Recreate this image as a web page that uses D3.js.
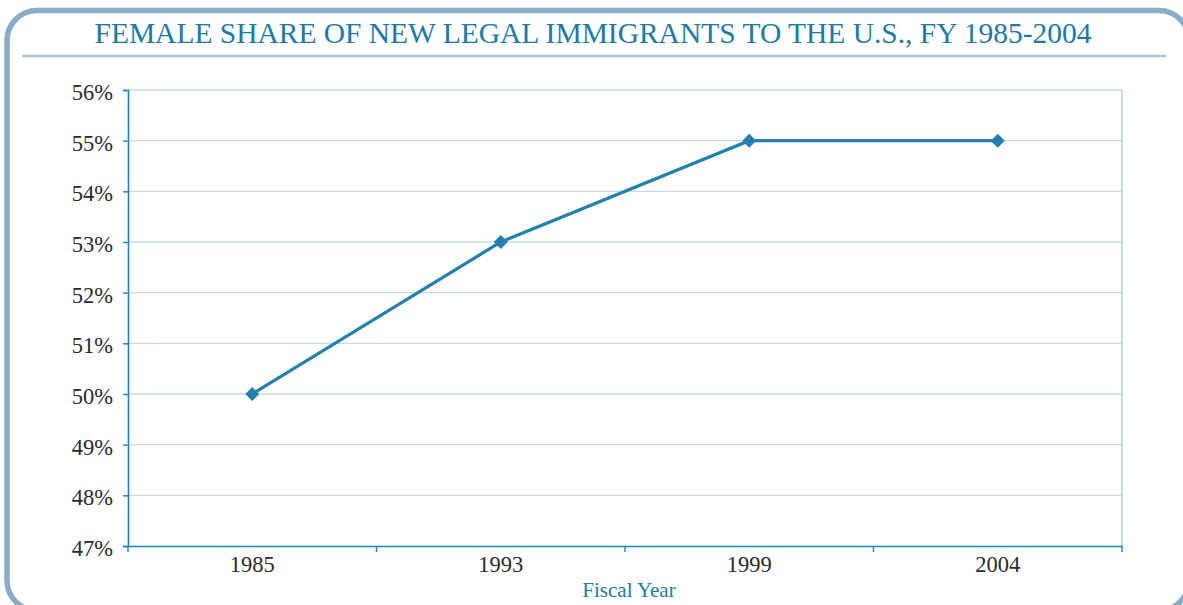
<!DOCTYPE html>
<html><head><meta charset="utf-8">
<script src="https://cdn.jsdelivr.net/npm/d3@7"></script>
<style>body{margin:0;background:#fff}svg{display:block}</style>
</head><body>
<svg id="c" width="1183" height="605"></svg>
<script>
const categories = ["1985","1993","1999","2004"];
const values = [50,53,55,55];
const yTicks = [47,48,49,50,51,52,53,54,55,56];
const title = "FEMALE SHARE OF NEW LEGAL IMMIGRANTS TO THE U.S., FY 1985-2004";
const xTitle = "Fiscal Year";

const svg = d3.select("#c");
const m={l:128,r:1122,t:90,b:546};
const serif = "'Liberation Serif','DejaVu Serif',serif";

// frame
svg.append("rect").attr("x",7).attr("y",10.5).attr("width",1182).attr("height",600)
  .attr("rx",30).attr("fill","none").attr("stroke","#89adc7").attr("stroke-width",5.5);
// title
svg.append("text").attr("x",593).attr("y",43).attr("text-anchor","middle")
  .attr("font-family",serif).attr("font-size",29.5).attr("fill","#1a7aaa")
  .attr("textLength",997).attr("lengthAdjust","spacingAndGlyphs").text(title);
svg.append("line").attr("x1",22).attr("x2",1166).attr("y1",56).attr("y2",56)
  .attr("stroke","#a9c6dc").attr("stroke-width",2.5);

const x = d3.scaleBand().domain(categories).range([m.l,m.r]).padding(0);
const y = d3.scaleLinear().domain([47,56]).range([m.b,m.t]);

// grid
svg.append("g").selectAll("line").data(yTicks.filter(d=>d>47)).join("line")
  .attr("x1",m.l).attr("x2",m.r).attr("y1",d=>y(d)).attr("y2",d=>y(d))
  .attr("stroke","#c9d9e8").attr("stroke-width",1.3);
// right border
svg.append("line").attr("x1",m.r).attr("x2",m.r).attr("y1",m.t).attr("y2",m.b)
  .attr("stroke","#a9c6dc").attr("stroke-width",1.3);

// y axis
const ya = svg.append("g").attr("transform",`translate(${m.l},0)`)
  .call(d3.axisLeft(y).tickValues(yTicks).tickFormat(d=>d+"%").tickSize(5).tickPadding(10));
ya.select(".domain").attr("stroke","#1a84b8").attr("stroke-width",1.6);
ya.selectAll(".tick line").attr("stroke","#1a84b8").attr("stroke-width",1.4);
ya.selectAll("text").attr("font-family",serif).attr("font-size",22.5).attr("fill","#2b2b2b")
  .attr("dy","0.42em");

// x axis
const xa = svg.append("g").attr("transform",`translate(0,${m.b})`)
  .call(d3.axisBottom(x).tickSize(0).tickPadding(12));
xa.select(".domain").attr("stroke","#1a84b8").attr("stroke-width",1.6);
xa.selectAll("text").attr("font-family",serif).attr("font-size",22.5).attr("fill","#2b2b2b")
  .attr("y",26).attr("dy",0);
const bounds = categories.map(c=>x(c)).concat([x(categories[categories.length-1])+x.bandwidth()]);
xa.selectAll(".bt").data(bounds).join("line").attr("class","bt")
  .attr("x1",d=>d).attr("x2",d=>d).attr("y1",0).attr("y2",6)
  .attr("stroke","#1a84b8").attr("stroke-width",1.4);

svg.append("text").attr("x",629).attr("y",597).attr("text-anchor","middle")
  .attr("font-family",serif).attr("font-size",21).attr("fill","#1a7aaa").text(xTitle);

// line
const data = categories.map((c,i)=>({c,v:values[i]}));
const line = d3.line().x(d=>x(d.c)+x.bandwidth()/2).y(d=>y(d.v));
svg.append("path").datum(data).attr("d",line).attr("fill","none")
  .attr("stroke","#2180b1").attr("stroke-width",3.2);
svg.append("g").selectAll("path").data(data).join("path")
  .attr("transform",d=>`translate(${x(d.c)+x.bandwidth()/2},${y(d.v)})`)
  .attr("d","M0,-7L7,0L0,7L-7,0Z")
  .attr("fill","#2180b1");
</script>
</body></html>
